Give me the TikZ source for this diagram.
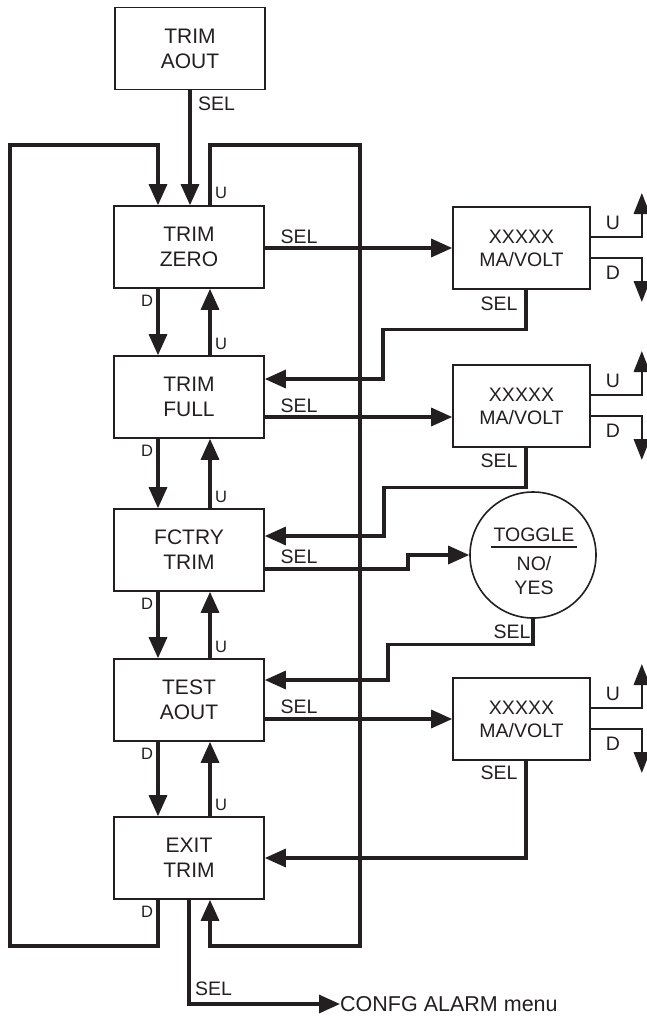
\documentclass[tikz,border=0pt]{standalone}
\usepackage{fontspec}
\setmainfont{Liberation Sans}
\usetikzlibrary{arrows.meta,calc}
\definecolor{ink}{RGB}{35,31,32}
\begin{document}
\begin{tikzpicture}[x=1pt,y=-1pt,
  mbox/.style={draw=ink, line width=1.6pt, minimum width=150pt, minimum height=82pt, inner sep=0pt, align=center, font=\fontsize{21}{25}\selectfont, text=ink},
  xbox/.style={draw=ink, line width=1.6pt, minimum width=137pt, minimum height=82pt, inner sep=0pt, align=center, font=\fontsize{19.5}{23}\selectfont, text=ink},
  lab/.style={font=\fontsize{19.5}{20}\selectfont, text=ink, inner sep=0pt},
  slab/.style={font=\fontsize{16.5}{17}\selectfont, text=ink, inner sep=0pt},
  wire/.style={draw=ink, line width=3.2pt},
  arr/.style={wire, -{Triangle[length=21pt,width=18pt]}},
  thinw/.style={draw=ink, line width=2.2pt},
  tarr/.style={thinw, -{Triangle[length=21pt,width=16pt]}},
]
\useasboundingbox (0,0) rectangle (646,1017);

% main boxes
\node[mbox] (aout)  at (190,48.5) {TRIM\\AOUT};
\node[mbox] (zero)  at (189,247)  {TRIM\\ZERO};
\node[mbox] (full)  at (189,397)  {TRIM\\FULL};
\node[mbox] (fctry) at (189,550)  {FCTRY\\TRIM};
\node[mbox] (test)  at (189,700)  {TEST\\AOUT};
\node[mbox] (exit)  at (189,858)  {EXIT\\TRIM};

% value boxes
\node[xbox] (x1) at (521.5,248) {XXXXX\\MA/VOLT};
\node[xbox] (x2) at (521.5,406) {XXXXX\\MA/VOLT};
\node[xbox] (x3) at (521.5,719) {XXXXX\\MA/VOLT};

% toggle circle
\node[draw=ink, line width=1.6pt, circle, minimum size=126pt, inner sep=0pt] (tog) at (533,555) {};
\node[lab] (togt) at (534,535) {TOGGLE};
\node[lab] (tno)  at (534,564) {NO/};
\node[lab] (tyes) at (534,588) {YES};
\draw[ink, line width=1.8pt] ($(togt.center)+(-43,12)$) -- ($(togt.center)+(43,12)$);

% helper coordinates
\coordinate (dl) at (158,0);
\coordinate (ul) at (210,0);
\coordinate (sx) at (526,0);
\coordinate (lb) at (10,946);
\coordinate (lt) at (10,145);
\coordinate (rt) at (360,145);
\coordinate (rb) at (360,946);

% entry
\draw[arr] (aout.south) -- (aout.south |- zero.north);
\node[lab, anchor=west] (aoutsel) at (198,104) {SEL};

% D / U arrows between main boxes
\foreach \a/\b in {zero/full, full/fctry, fctry/test, test/exit}{
  \draw[arr] (\a.south -| dl) -- (\b.north -| dl);
  \draw[arr] (\b.north -| ul) -- (\a.south -| ul);
  \node[slab] at ($(\a.south -| dl)+(-11,12)$) {D};
  \node[slab] at ($(\b.north -| ul)+(11,-11)$) {U};
}
\node[slab] (zu) at ($(zero.north -| ul)+(11,-12)$) {U};
\node[slab] (ed) at ($(exit.south -| dl)+(-11,12)$) {D};

% outer loops
\draw[arr] (exit.south -| dl) |- (lb) |- (lt) -| (zero.north -| dl);
\draw[arr] (zero.north -| ul) |- (rt) -- (rb) -| (exit.south -| ul);

% SEL to value boxes
\draw[arr] (zero.east |- x1.west) -- (x1.west);
\node[lab] (zsel) at (299,237) {SEL};

\coordinate (fs) at ($(full.east)+(0,20)$);
\draw[arr] (fs) -- (fs -| x2.west);
\node[lab] (fsel) at (299,406) {SEL};

\coordinate (cs) at ($(fctry.east)+(0,19)$);
\coordinate (cstep) at (408,0);
\draw[arr] (cs) -- (cs -| cstep) |- (tog.west);
\node[lab] (csel) at (299,557) {SEL};

\draw[arr] (test.east |- x3.west) -- (x3.west);
\node[lab] (tsel) at (299,707) {SEL};

% SEL back from value boxes
\draw[arr] (x1.south -| sx) -- ++(0,40) -| (383,379) -- ($(full.east)+(0,-18)$);
\node[lab] (x1sel) at (499,304) {SEL};

\draw[arr] (x2.south -| sx) -- ++(0,40) -| (384,536) -- ($(fctry.east)+(0,-14)$);
\node[lab] (x2sel) at (499,461) {SEL};

\draw[arr] (tog.south) -- ++(0,26) -| (388,680) -- ($(test.east)+(0,-20)$);
\node[lab] (tgsel) at (512,632) {SEL};

\draw[arr] (x3.south -| sx) |- (exit.east);
\node[lab] (x3sel) at (499,773) {SEL};

% U / D outputs of value boxes
\foreach \b in {x1,x2,x3}{
  \draw[tarr] ($(\b.east)+(0,-11)$) -| ++(51,-44);
  \draw[tarr] ($(\b.east)+(0,10)$) -| ++(51,44);
  \node[lab] at ($(\b.east)+(22,-25)$) {U};
  \node[lab] at ($(\b.east)+(22,25)$) {D};
}

% exit
\node[lab, anchor=west, font=\fontsize{21.5}{22}\selectfont] (cfg) at (340,1004) {CONFG ALARM menu};
\draw[arr] (exit.south) |- (cfg.west);
\node[lab, anchor=west] (esel) at (195,989) {SEL};
\end{tikzpicture}
\end{document}
